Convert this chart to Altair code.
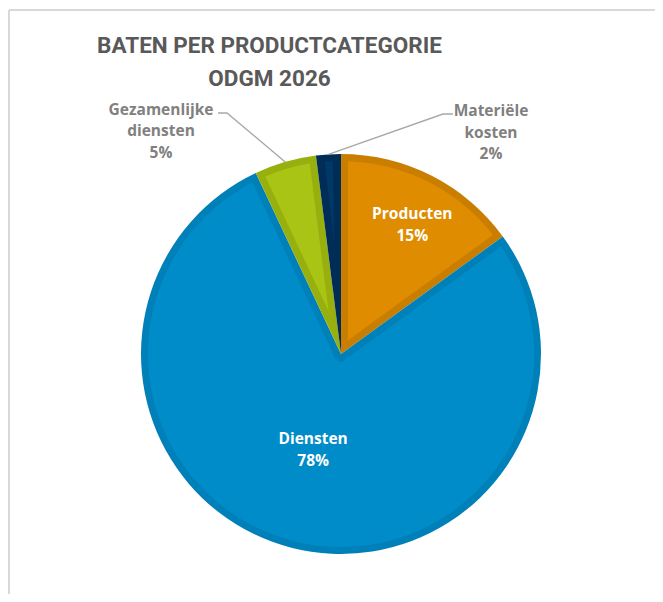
import math
import altair as alt
import pandas as pd

# ---------------- data ----------------
categories = ["Producten", "Diensten", "Gezamenlijke diensten", "Materiële kosten"]
label_text = ["Producten", "Diensten", "Gezamenlijke\ndiensten", "Materiële\nkosten"]
values = [15, 78, 5, 2]
title_lines = ["BATEN PER PRODUCTCATEGORIE", "ODGM 2026"]

# ---------------- styles ----------------
fill_colors = ["#E08C00", "#008CC8", "#A9C414", "#003868"]
border_colors = ["#CA7E00", "#0080B8", "#98B00E", "#002D57"]
TITLE_COLOR = "#595959"
LABEL_GREY = "#808080"
LEADER_COLOR = "#A8A8A8"
FRAME_COLOR = "#D9D9D9"
LABEL_FONT = "Open Sans"
LABEL_SIZE = 15.5

# ---------------- layout (view px) ----------------
PAD = 4
ORIGIN = 8 + PAD
W, H = 643, 582
CX, CY = 341 - ORIGIN, 354 - ORIGIN
R_OUT = 200
BORDER = 7
R_IN = R_OUT - BORDER
PAD_ANGLE = 2 * BORDER / R_IN

# inside labels: radius of first text line, horizontal nudge
inside_pos = {"Producten": (157, 0), "Diensten": (88, -6)}
# outside labels: first-line anchor (page px)
outside_pos = {"Gezamenlijke diensten": (161, 109.5), "Materiële kosten": (491, 111)}
leader_start = {"Gezamenlijke diensten": [(218, 113), (227, 113)],
                "Materiële kosten": [(453, 114), (443, 114)]}

total = sum(values)
rows = []
cum = 0.0
mid_angle = {}
for i, (c, lab, v) in enumerate(zip(categories, label_text, values)):
    half = math.pi * v / total
    r0 = BORDER / math.sin(half) if half < math.pi / 2 else BORDER + 0.5
    mid_angle[c] = 2 * math.pi * (cum + v / 2) / total
    cum += v
    rows.append({"cat": c, "idx": i, "value": v, "outer": R_IN, "inner": r0,
                 "full": lab + "\n" + f"{v}%"})
df = pd.DataFrame(rows)

color_dark = alt.Scale(domain=categories, range=border_colors)
color_fill = alt.Scale(domain=categories, range=fill_colors)

base = alt.Chart(df)

dark = base.mark_arc(outerRadius=R_OUT, innerRadius=0).encode(
    theta=alt.Theta("value:Q", stack=True),
    color=alt.Color("cat:N", scale=color_dark, legend=None),
    order=alt.Order("idx:Q"),
    x=alt.value(CX), y=alt.value(CY),
)

light = base.mark_arc(padAngle=PAD_ANGLE).encode(
    theta=alt.Theta("value:Q", stack=True),
    radius=alt.Radius("outer:Q", scale=None),
    radius2=alt.Radius2("inner:Q"),
    fill=alt.Fill("cat:N", scale=color_fill, legend=None),
    order=alt.Order("idx:Q"),
    x=alt.value(CX), y=alt.value(CY),
)

inner_layers = []
for c, (rad, dx) in inside_pos.items():
    inner_layers.append(
        base.transform_calculate(
            lbl=f"datum.cat == '{c}' ? datum.full : ''"
        ).mark_text(
            font=LABEL_FONT, fontSize=LABEL_SIZE, fontWeight="bold", color="white",
            lineBreak="\n", lineHeight=22, align="center", baseline="middle",
            radius=rad, dx=dx,
        ).encode(
            theta=alt.Theta("value:Q", stack=True),
            text="lbl:N",
            detail="cat:N",
            order=alt.Order("idx:Q"),
            x=alt.value(CX), y=alt.value(CY),
        )
    )

# outside labels
out_rows = []
for c, lab, v in zip(categories, label_text, values):
    if c in outside_pos:
        px, py = outside_pos[c]
        out_rows.append({"cat": c, "txt": lab + "\n" + f"{v}%", "x": px - ORIGIN, "y": py - ORIGIN})
out_df = pd.DataFrame(out_rows)
outer_text = alt.Chart(out_df).mark_text(
    font=LABEL_FONT, fontSize=LABEL_SIZE, fontWeight="bold", color=LABEL_GREY,
    lineBreak="\n", lineHeight=21.5, align="center", baseline="middle",
).encode(
    x=alt.X("x:Q", scale=None), y=alt.Y("y:Q", scale=None), text="txt:N"
)

# leader lines
lead_rows = []
for c, pts in leader_start.items():
    k = 0
    for (px, py) in pts:
        lead_rows.append({"cat": c, "k": k, "x": px - ORIGIN, "y": py - ORIGIN})
        k += 1
    a = mid_angle[c]
    lead_rows.append({"cat": c, "k": k, "x": CX + R_OUT * math.sin(a), "y": CY - R_OUT * math.cos(a)})
lead_df = pd.DataFrame(lead_rows)
leaders = alt.Chart(lead_df).mark_line(color=LEADER_COLOR, strokeWidth=1.4).encode(
    x=alt.X("x:Q", scale=None), y=alt.Y("y:Q", scale=None),
    detail="cat:N", order="k:Q",
)

# title
title_df = pd.DataFrame({"t": title_lines, "y": [52.5 - ORIGIN, 85.5 - ORIGIN]})
title = alt.Chart(title_df).mark_text(
    font="Roboto", fontSize=22.5, fontWeight="bold", color=TITLE_COLOR,
    align="center", baseline="alphabetic",
).encode(x=alt.value(269.5 - ORIGIN), y=alt.Y("y:Q", scale=None), text="t:N")

# chart frame (top & left edges visible)
frame_top = alt.Chart(df).mark_rule(color=FRAME_COLOR, strokeWidth=2).encode(
    x=alt.value(-3), x2=alt.value(W + 10), y=alt.value(10 - ORIGIN))
frame_left = alt.Chart(df).mark_rule(color=FRAME_COLOR, strokeWidth=2).encode(
    x=alt.value(9 - ORIGIN), y=alt.value(10 - ORIGIN), y2=alt.value(H + 10))

chart = alt.layer(
    frame_top, frame_left, dark, light, leaders, *inner_layers, outer_text, title
).resolve_scale(color="independent", fill="independent").properties(
    width=W, height=H, autosize="none",
    padding={"left": PAD, "top": PAD, "right": 0, "bottom": 0},
).configure_view(strokeWidth=0)

chart.save("out.html", embed_options={"renderer": "svg", "actions": False})
